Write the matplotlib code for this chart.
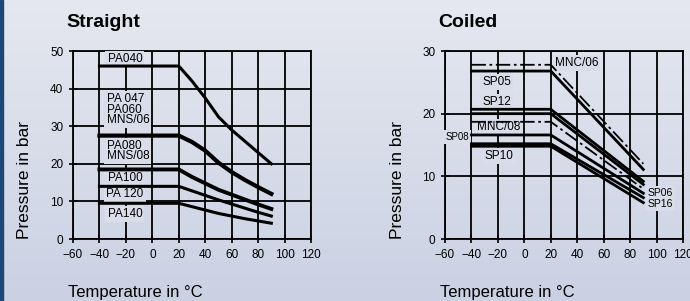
import numpy as np
import matplotlib
matplotlib.use("Agg")
import matplotlib.pyplot as plt
from matplotlib.patches import Rectangle

# ---- data ----
temps_straight = [-40, 20, 30, 40, 50, 60, 70, 80, 90]
pa040 = [46, 46, 42, 37.5, 32.5, 29, 26, 23, 20]
pa047 = [27.5, 27.5, 25.8, 23.5, 20.3, 17.8, 15.7, 13.8, 12]
pa080 = [18.5, 18.5, 16.5, 14.8, 13.1, 11.8, 10.5, 9.2, 8]
pa100 = [14, 14, 12.8, 11.6, 10.4, 9.3, 8.2, 7.1, 6.1]
pa120 = [9.5, 9.5, 8.6, 7.7, 6.8, 6.1, 5.4, 4.8, 4.2]

temps_coiled = [-40, 20, 90]
mnc06 = [27.8, 27.8, 12.0]
sp05 = [26.8, 26.8, 11.1]
sp12 = [20.7, 20.7, 9.2]
sp12b = [20.0, 20.0, 8.7]
mnc08 = [18.7, 18.7, 8.0]
sp08 = [16.6, 16.6, 7.3]
sp10 = [15.2, 15.2, 6.6]
sp16 = [14.8, 14.8, 5.8]

xticks = [-60, -40, -20, 0, 20, 40, 60, 80, 100, 120]

BG = "#d9dde9"
FONT = ["Liberation Sans", "DejaVu Sans"]

fig = plt.figure(figsize=(6.9, 3.01), dpi=100)

# background gradient
bg_ax = fig.add_axes([0, 0, 1, 1], zorder=-10)
grad = np.linspace(0, 1, 256).reshape(-1, 1)
top = np.array([0.90, 0.91, 0.94])
bot = np.array([0.79, 0.82, 0.89])
img = top + (bot - top) * grad[:, :, None]
bg_ax.imshow(img, aspect="auto", extent=[0, 1, 0, 1])
bg_ax.set_axis_off()
fig.patches.append(Rectangle((0, 0), 3 / 690, 1, transform=fig.transFigure,
                             color="#1b4878", zorder=-5))


def setup(ax, ymax, ystep, title):
    ax.set_facecolor("none")
    ax.set_xlim(-60, 120)
    ax.set_ylim(0, ymax)
    ax.set_xticks(xticks)
    ax.set_yticks(np.arange(0, ymax + 1, ystep))
    ax.grid(True, color="black", linewidth=1.3, zorder=1)
    ax.set_axisbelow(True)
    for s in ax.spines.values():
        s.set_linewidth(1.3)
    ax.tick_params(direction="inout", length=6, width=1.2, labelsize=8.5, pad=4)
    for lab in ax.get_xticklabels() + ax.get_yticklabels():
        lab.set_family(FONT)
    ax.text(-7 / 238, 1 + 24 / 188, title, transform=ax.transAxes, ha="left",
            va="baseline", fontsize=14, fontweight="bold", family=FONT)
    ax.text(-5 / 238, -58 / 188, "Temperature in \u00b0C", transform=ax.transAxes,
            ha="left", va="baseline", fontsize=12, family=FONT)
    ax.text(-48 / 238, 0, "Pressure in bar", transform=ax.transAxes,
            rotation=90, ha="center", va="bottom", fontsize=12.5, family=FONT)


def label(ax, x, y, s, size=8.5, ha="center", **kw):
    ax.text(x, y, s, ha=ha, va="center", fontsize=size, family=FONT, zorder=3,
            linespacing=0.85,
            bbox=dict(facecolor=BG, edgecolor="none", pad=1.5), **kw)


# ---- Straight ----
ax1 = fig.add_axes([73 / 690, 62 / 301, 238 / 690, 188 / 301])
setup(ax1, 50, 10, "Straight")
ax1.plot(temps_straight, pa040, color="black", lw=2.2, zorder=4)
ax1.plot(temps_straight, pa047, color="black", lw=3.0, zorder=4)
ax1.plot(temps_straight, pa080, color="black", lw=2.8, zorder=4)
ax1.plot(temps_straight, pa100, color="black", lw=2.2, zorder=4)
ax1.plot(temps_straight, pa120, color="black", lw=2.2, zorder=4)

label(ax1, -20.7, 47.9, "PA040")
label(ax1, -34.6, 34.4, "PA 047\nPA060\nMNS/06", ha="left")
label(ax1, -34.6, 23.4, "PA080\nMNS/08", ha="left")
label(ax1, -20.7, 16.3, "PA100")
label(ax1, -20.7, 12.0, "PA 120")
label(ax1, -20.7, 6.6, "PA140")

# ---- Coiled ----
ax2 = fig.add_axes([445 / 690, 62 / 301, 238 / 690, 188 / 301])
setup(ax2, 30, 10, "Coiled")
ax2.plot(temps_coiled, mnc06, color="black", lw=1.3, ls=(0, (8, 2, 1.5, 2)), zorder=4)
ax2.plot(temps_coiled, sp05, color="black", lw=2.0, zorder=4)
ax2.plot(temps_coiled, sp12, color="black", lw=2.0, zorder=4)
ax2.plot(temps_coiled, sp12b, color="black", lw=2.0, zorder=4)
ax2.plot(temps_coiled, mnc08, color="black", lw=1.3, ls=(0, (8, 2, 1.5, 2)), zorder=4)
ax2.plot(temps_coiled, sp08, color="black", lw=2.0, zorder=4)
ax2.plot(temps_coiled, sp10, color="black", lw=2.0, zorder=4)
ax2.plot(temps_coiled, sp16, color="black", lw=2.0, zorder=4)

label(ax2, 23, 28.1, "MNC/06", ha="left")
label(ax2, -20.9, 25.1, "SP05")
label(ax2, -20.9, 21.9, "SP12")
label(ax2, -19.7, 17.8, "MNC/08")
label(ax2, -59.5, 16.3, "SP08", size=7, ha="left")
label(ax2, -19, 13.3, "SP10")
label(ax2, 93, 7.3, "SP06", size=7.5, ha="left")
label(ax2, 93, 5.6, "SP16", size=7.5, ha="left")

fig.savefig("out.png", dpi=100)
